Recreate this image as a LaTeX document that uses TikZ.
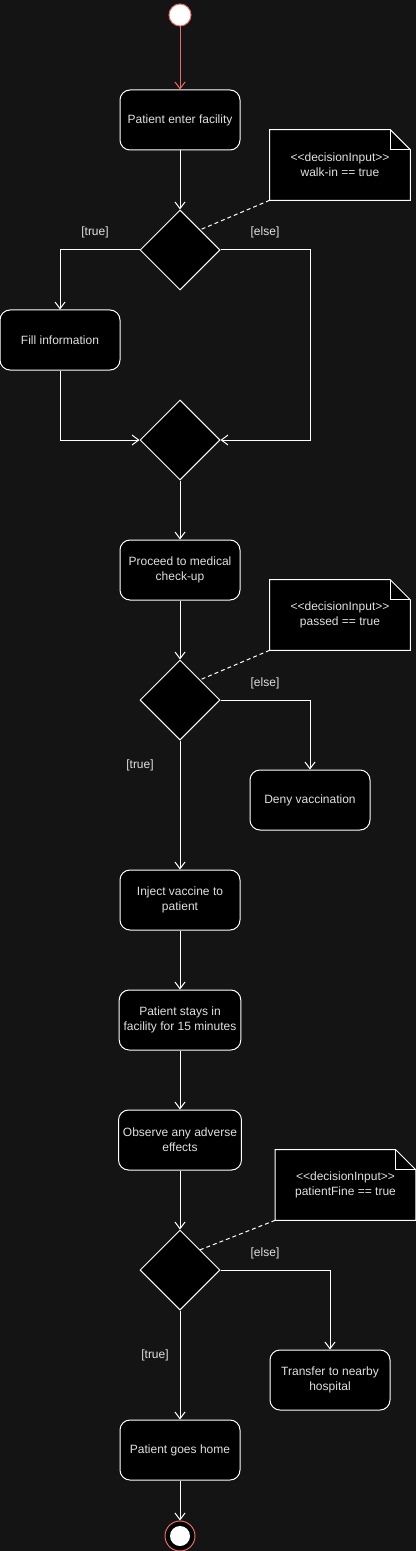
\documentclass[tikz,border=0pt]{standalone}
\usepackage{fontspec}
\setmainfont{Liberation Sans}[Ligatures=TeXOff]
\usetikzlibrary{shapes.geometric,arrows.meta}

\definecolor{bgdark}{HTML}{141414}
\definecolor{txtgray}{HTML}{E0E0E0}
\definecolor{initred}{HTML}{EA6B66}

\tikzset{
  action/.style={draw=white, fill=black, line width=0.75pt, rounded corners=7.5pt,
    minimum width=90pt, minimum height=45pt, align=center, text=txtgray,
    font=\fontsize{9}{11.5}\selectfont},
  decision/.style={diamond, draw=white, fill=black, line width=0.75pt,
    minimum width=60pt, minimum height=60pt, inner sep=0pt},
  notebox/.style={fill=black, minimum width=105pt, minimum height=52.5pt, inner sep=0pt,
    align=center, text=txtgray, font=\fontsize{9}{11.5}\selectfont},
  noteline/.style={draw=white, line width=0.75pt},
  guard/.style={text=txtgray, font=\fontsize{9}{11}\selectfont},
  flow/.style={draw=white, line width=0.75pt, -{Straight Barb[length=5pt,width=7.5pt]}},
  anchorline/.style={draw=white, line width=0.75pt, dash pattern=on 3pt off 2.25pt},
  initial/.style={circle, draw=initred, fill=white, line width=0.75pt, minimum size=16.5pt, inner sep=0pt},
  final/.style={circle, draw=initred, fill=black, line width=0.75pt, minimum size=22.5pt, inner sep=0pt},
}

\begin{document}
\begin{tikzpicture}[x=0.75pt, y=-0.75pt]

\fill[bgdark] (0,0) rectangle (416,1551);
\useasboundingbox (0,0) rectangle (416,1551);

\node[initial] (start) at (180,15) {};
\node[action] (enter) at (180,120) {Patient enter facility};
\node[decision] (walkin) at (180,250) {};
\node[action] (fill) at (60,340) {Fill information};
\node[decision] (merge) at (180,440) {};
\node[action] (checkup) at (180,570) {Proceed to medical\\check-up};
\node[decision] (passed) at (180,700) {};
\node[action] (deny) at (310,800) {Deny vaccination};
\node[action] (inject) at (180,900) {Inject vaccine to\\patient};
\node[action] (stay) at (180,1020) {Patient stays in\\facility for 15 minutes};
\node[action] (observe) at (180,1140) {Observe any adverse\\effects};
\node[decision] (fine) at (180,1270) {};
\node[action] (transfer) at (330,1380) {Transfer to nearby\\hospital};
\node[action] (home) at (180,1450) {Patient goes home};
\node[final] (stop) at (180,1536) {};
\node[circle, fill=white, minimum size=15pt, inner sep=0pt] (stopdot) at (stop) {};

\node[notebox] (walkinnote) at (340,165) {<<decisionInput>>\\walk-in == true};
\node[notebox] (passednote) at (340,615) {<<decisionInput>>\\passed == true};
\node[notebox] (finenote) at (345.5,1185) {<<decisionInput>>\\patientFine == true};

\foreach \n in {walkinnote, passednote, finenote} {
  \fill[bgdark] ([xshift=-15pt]\n.north east) -- (\n.north east) -- ([yshift=-15pt]\n.north east) -- cycle;
  \draw[noteline] (\n.north west) -- ([xshift=-15pt]\n.north east) -- ([yshift=-15pt]\n.north east)
    -- (\n.south east) -- (\n.south west) -- cycle;
  \draw[noteline] ([xshift=-15pt]\n.north east) |- ([yshift=-15pt]\n.north east);
}

\node[guard] (walkintrue) at (95,232) {[true]};
\node[guard] (walkinelse) at (265,232) {[else]};
\node[guard] (passedelse) at (265,683) {[else]};
\node[guard] (passedtrue) at (140,765) {[true]};
\node[guard] (fineelse) at (265,1253) {[else]};
\node[guard] (finetrue) at (155,1355) {[true]};

\coordinate (walkinturn) at (310,250);

\draw[flow, draw=initred] (start) -- (enter);
\draw[flow] (enter) -- (walkin);
\draw[flow] (walkin.west) -| (fill.north);
\draw[flow] (walkin.east) -- (walkinturn) |- (merge.east);
\draw[flow] (fill.south) |- (merge.west);
\draw[flow] (merge) -- (checkup);
\draw[flow] (checkup) -- (passed);
\draw[flow] (passed.east) -| (deny.north);
\draw[flow] (passed) -- (inject);
\draw[flow] (inject) -- (stay);
\draw[flow] (stay) -- (observe);
\draw[flow] (observe) -- (fine);
\draw[flow] (fine.east) -| (transfer.north);
\draw[flow] (fine) -- (home);
\draw[flow] (home) -- (stop);

\draw[anchorline] (walkinnote.south west) -- (walkin.north east);
\draw[anchorline] (passednote.south west) -- (passed.north east);
\draw[anchorline] (finenote.south west) -- (fine.north east);
\end{tikzpicture}
\end{document}
